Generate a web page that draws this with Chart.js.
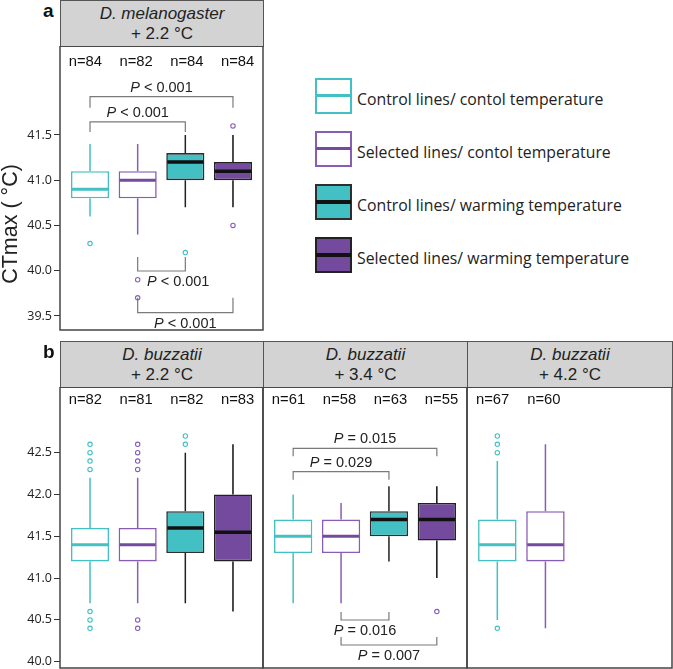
<!DOCTYPE html>
<html>
<head>
<meta charset="utf-8">
<script src="https://cdn.jsdelivr.net/npm/chart.js@4.4.1/dist/chart.umd.min.js"></script>
<style>
  body { margin: 0; background: #fff; font-family: "Liberation Sans", Arial, sans-serif; color: #222; }
  #page { position: relative; width: 673px; height: 669px; overflow: hidden; }
  .panel { position: absolute; }
  .head { position: absolute; background: #d3d3d3; border: 1.5px solid #555; box-sizing: border-box;
          text-align: center; font-size: 17px; line-height: 20px; padding-top: 3px; color: #222; }
  .tag { position: absolute; font-weight: bold; font-size: 19px; line-height: 24px; color: #111; }
  #ytitle { position: absolute; left: 10px; top: 224px; transform: translate(-50%, -50%) rotate(-90deg);
            white-space: nowrap; font-size: 21.5px; color: #222; }
  #legend { position: absolute; left: 315px; top: 78px; }
  .item { position: relative; height: 53px; }
  .ico { position: absolute; left: 0; top: 0; width: 37px; height: 36px; box-sizing: border-box; border: 2px solid; }
  .ico .mid { position: absolute; left: -1px; right: -1px; top: 50%; height: 4px; margin-top: -2px; }
  .txt { position: absolute; left: 42px; top: 21px; transform: translateY(-50%); white-space: nowrap;
         font-family: "Open Sans", sans-serif; font-size: 15.8px; color: #222; }
</style>
</head>
<body>
<div id="page">
  <div class="tag" style="left:43px;top:-1px">a</div>
  <div class="head" style="left:60px;top:0;width:204px;height:47px"><i>D. melanogaster</i><br>+ 2.2 °C</div>
  <div class="panel" style="left:0;top:46px;width:264px;height:285px"><canvas id="pa"></canvas></div>

  <div id="ytitle">CTmax ( °C)</div>
  <div id="legend"></div>

  <div class="tag" style="left:43px;top:340px">b</div>
  <div class="head" style="left:60px;top:341px;width:204px;height:47px"><i>D. buzzatii</i><br>+ 2.2 °C</div>
  <div class="head" style="left:263px;top:341px;width:205px;height:47px"><i>D. buzzatii</i><br>+ 3.4 °C</div>
  <div class="head" style="left:467px;top:341px;width:206px;height:47px"><i>D. buzzatii</i><br>+ 4.2 °C</div>
  <div class="panel" style="left:0;top:387px;width:264px;height:282px"><canvas id="pb1"></canvas></div>
  <div class="panel" style="left:262px;top:387px;width:206px;height:282px"><canvas id="pb2"></canvas></div>
  <div class="panel" style="left:466px;top:387px;width:207px;height:282px"><canvas id="pb3"></canvas></div>
</div>

<script>
const groupNames = [
  'Control lines/ contol temperature',
  'Selected lines/ contol temperature',
  'Control lines/ warming temperature',
  'Selected lines/ warming temperature'
];

// [lower whisker, Q1, median, Q3, upper whisker]
const melBoxes = [[40.6, 40.8, 40.9, 41.1, 41.4], [40.4, 40.8, 41.0, 41.1, 41.4], [40.7, 41.0, 41.2, 41.3, 41.5], [40.7, 41.0, 41.1, 41.2, 41.5]];
const melOutliers = [[40.3], [39.9, 39.7], [40.2], [41.6, 40.5]];
const melN = [84, 82, 84, 84];
const melP = ['P < 0.001', 'P < 0.001', 'P < 0.001', 'P < 0.001'];

const buz22Boxes = [[40.7, 41.2, 41.4, 41.6, 42.2], [40.7, 41.2, 41.4, 41.6, 42.2], [40.7, 41.3, 41.6, 41.8, 42.5], [40.6, 41.2, 41.55, 42.0, 42.6]];
const buz22Outliers = [[42.3, 42.4, 42.5, 42.6, 40.6, 40.5, 40.4], [42.3, 42.4, 42.5, 42.6, 40.5, 40.4], [42.6, 42.7], []];
const buz22N = [82, 81, 82, 83];

const buz34Boxes = [[40.7, 41.3, 41.5, 41.7, 42.0], [40.7, 41.3, 41.5, 41.7, 41.9], [41.2, 41.5, 41.7, 41.8, 42.1], [41.0, 41.45, 41.7, 41.9, 42.1]];
const buz34Outliers = [[], [], [], [40.6]];
const buz34N = [61, 58, 63, 55];
const buz34P = ['P = 0.015', 'P = 0.029', 'P = 0.016', 'P = 0.007'];

const buz42Boxes = [[40.5, 41.2, 41.4, 41.7, 42.4], [40.4, 41.2, 41.4, 41.8, 42.6]];
const buz42Outliers = [[42.5, 42.6, 42.7, 40.4], []];
const buz42N = [67, 60];

const melTicks = [39.5, 40.0, 40.5, 41.0, 41.5];
const buzTicks = [40.0, 40.5, 41.0, 41.5, 42.0, 42.5];

const CYAN = '#43c0c3', PURPLE = '#744a9f', LILAC = '#8a5db5';
const groupStyles = [
  { fill: '#ffffff', edge: CYAN, mid: CYAN, whisk: CYAN, dot: CYAN },
  { fill: '#ffffff', edge: LILAC, mid: PURPLE, whisk: LILAC, dot: LILAC },
  { fill: CYAN, edge: '#2e2e2e', mid: '#111', whisk: '#222', dot: CYAN },
  { fill: PURPLE, edge: '#222', mid: '#111', whisk: '#111', dot: LILAC }
];

function pText(ctx, label, cx, cy) {
  const first = label.slice(0, 1), rest = label.slice(1);
  ctx.font = 'italic 14.5px "Liberation Sans"';
  const w1 = ctx.measureText(first).width;
  ctx.font = '14.5px "Liberation Sans"';
  const w2 = ctx.measureText(rest).width;
  const x0 = cx - (w1 + w2) / 2;
  ctx.textAlign = 'left';
  ctx.textBaseline = 'middle';
  ctx.fillStyle = '#222';
  ctx.font = 'italic 14.5px "Liberation Sans"';
  ctx.fillText(first, x0, cy);
  ctx.font = '14.5px "Liberation Sans"';
  ctx.fillText(rest, x0 + w1, cy);
}

const boxExtras = {
  id: 'boxExtras',
  beforeDatasetsDraw(chart, args, o) {
    const { ctx, scales: { x, y } } = chart;
    ctx.save();
    ctx.lineWidth = 1.5;
    o.boxes.forEach((b, i) => {
      const cx = x.getPixelForValue(i + 1);
      ctx.strokeStyle = groupStyles[i].whisk;
      ctx.beginPath();
      ctx.moveTo(cx, y.getPixelForValue(b[3])); ctx.lineTo(cx, y.getPixelForValue(b[4]));
      ctx.moveTo(cx, y.getPixelForValue(b[1])); ctx.lineTo(cx, y.getPixelForValue(b[0]));
      ctx.stroke();
    });
    ctx.restore();
  },
  afterDatasetsDraw(chart, args, o) {
    const { ctx, scales: { y } } = chart;
    const bars = chart.getDatasetMeta(0).data;
    ctx.save();
    o.boxes.forEach((b, i) => {
      const bar = bars[i];
      const my = y.getPixelForValue(b[2]);
      ctx.strokeStyle = groupStyles[i].mid;
      ctx.lineWidth = i < 2 ? 3 : 3.5;
      ctx.beginPath();
      ctx.moveTo(bar.x - bar.width / 2 + 1, my);
      ctx.lineTo(bar.x + bar.width / 2 - 1, my);
      ctx.stroke();
    });
    ctx.restore();
  },
  afterDraw(chart, args, o) {
    const { ctx, chartArea: a, scales: { x, y } } = chart;
    ctx.save();
    // sample sizes
    ctx.fillStyle = '#111';
    ctx.font = '14.8px "Liberation Sans"';
    ctx.textAlign = 'center';
    ctx.textBaseline = 'middle';
    o.counts.forEach((n, i) => {
      ctx.fillText('n=' + n, a.left + (i + 0.5) * a.width / 4, a.top + o.nTop);
    });
    // significance brackets
    (o.brackets || []).forEach((br, k) => {
      const x1 = x.getPixelForValue(br.from), x2 = x.getPixelForValue(br.to);
      const ly = y.getPixelForValue(br.at);
      const dir = br.side === 'above' ? 1 : -1;
      ctx.strokeStyle = '#7a7a7a';
      ctx.lineWidth = 1.2;
      ctx.beginPath();
      ctx.moveTo(x1, ly + dir * br.tick);
      ctx.lineTo(x1, ly);
      ctx.lineTo(x2, ly);
      ctx.lineTo(x2, ly + dir * br.tick);
      ctx.stroke();
      const tx = br.textX !== undefined ? x.getPixelForValue(br.textX) : (x1 + x2) / 2;
      const ty = br.side === 'above' ? ly - 9 : ly + 11;
      pText(ctx, o.labels[k], tx, ty);
    });
    // frame
    ctx.strokeStyle = '#444';
    ctx.lineWidth = 1.5;
    ctx.strokeRect(a.left, a.top, a.width, a.height);
    ctx.restore();
  }
};

function yScale(min, max, ticks, show) {
  return {
    min, max, display: show,
    afterBuildTicks: s => { s.ticks = ticks.map(v => ({ value: v })); },
    afterFit: s => {
      if (show) s.width = 60;
      s.paddingTop = 0;
      s.paddingBottom = 0;
    },
    ticks: { callback: v => Number(v).toFixed(1), color: '#222', padding: 2,
             font: { family: '"Open Sans"', size: 12.5 } },
    grid: { drawOnChartArea: false, drawTicks: true, tickLength: 6, color: '#333', lineWidth: 1 },
    border: { display: false }
  };
}

function makePanel(id, boxes, outliers, counts, cfg) {
  const pts = [], cols = [];
  outliers.forEach((list, i) => list.forEach(v => { pts.push({ x: i + 1, y: v }); cols.push(groupStyles[i].dot); }));
  return new Chart(document.getElementById(id), {
    type: 'bar',
    data: {
      datasets: [
        {
          type: 'bar',
          data: boxes.map((b, i) => ({ x: i + 1, y: [b[1], b[3]] })),
          backgroundColor: boxes.map((b, i) => groupStyles[i].fill),
          borderColor: boxes.map((b, i) => groupStyles[i].edge),
          borderWidth: 1.6,
          borderSkipped: false,
          categoryPercentage: 1,
          barPercentage: 0.8
        },
        {
          type: 'scatter',
          data: pts,
          pointRadius: 2.2,
          pointBorderWidth: 1.1,
          pointBorderColor: cols,
          pointBackgroundColor: '#ffffff'
        }
      ]
    },
    options: {
      animation: false,
      responsive: true,
      maintainAspectRatio: false,
      layout: { padding: cfg.pad, autoPadding: false },
      plugins: {
        legend: { display: false },
        tooltip: { enabled: false },
        boxExtras: { boxes, counts, brackets: cfg.brackets, labels: cfg.labels, nTop: cfg.nTop }
      },
      scales: {
        x: { type: 'linear', min: 0.37, max: 4.63, offset: false, display: false },
        y: yScale(cfg.min, cfg.max, cfg.ticks, cfg.showY)
      }
    },
    plugins: [boxExtras]
  });
}

makePanel('pa', melBoxes, melOutliers, melN, {
  min: 39.345, max: 42.483, ticks: melTicks, showY: true, nTop: 16,
  pad: { left: 0, right: 1, top: 0, bottom: 1 },
  labels: melP,
  brackets: [
    { from: 1, to: 4, at: 41.923, side: 'above', tick: 11 },
    { from: 1, to: 3, at: 41.644, side: 'above', tick: 10 },
    { from: 2, to: 3, at: 39.997, side: 'below', tick: 14, textX: 2.85 },
    { from: 2, to: 4, at: 39.536, side: 'below', tick: 15 }
  ]
});

makePanel('pb1', buz22Boxes, buz22Outliers, buz22N, {
  min: 39.925, max: 43.286, ticks: buzTicks, showY: true, nTop: 12.6,
  pad: { left: 0, right: 1, top: 0, bottom: 1 }
});

makePanel('pb2', buz34Boxes, buz34Outliers, buz34N, {
  min: 39.925, max: 43.286, ticks: buzTicks, showY: false, nTop: 12.6,
  pad: { left: 1, right: 1, top: 0, bottom: 1 },
  labels: buz34P,
  brackets: [
    { from: 1, to: 4, at: 42.553, side: 'above', tick: 8 },
    { from: 1, to: 3, at: 42.273, side: 'above', tick: 8 },
    { from: 2, to: 3, at: 40.499, side: 'below', tick: 8 },
    { from: 2, to: 4, at: 40.2, side: 'below', tick: 8 }
  ]
});

makePanel('pb3', buz42Boxes, buz42Outliers, buz42N, {
  min: 39.925, max: 43.286, ticks: buzTicks, showY: false, nTop: 12.6,
  pad: { left: 1, right: 1, top: 0, bottom: 1 }
});

// legend
const legend = document.getElementById('legend');
groupNames.forEach((name, i) => {
  const s = groupStyles[i];
  const item = document.createElement('div');
  item.className = 'item';
  item.innerHTML = '<div class="ico" style="background:' + s.fill + ';border-color:' + s.edge + '">' +
    '<div class="mid" style="background:' + s.mid + ';height:' + (i < 2 ? 3 : 4) + 'px"></div></div>' +
    '<div class="txt">' + name + '</div>';
  legend.appendChild(item);
});
</script>
</body>
</html>
